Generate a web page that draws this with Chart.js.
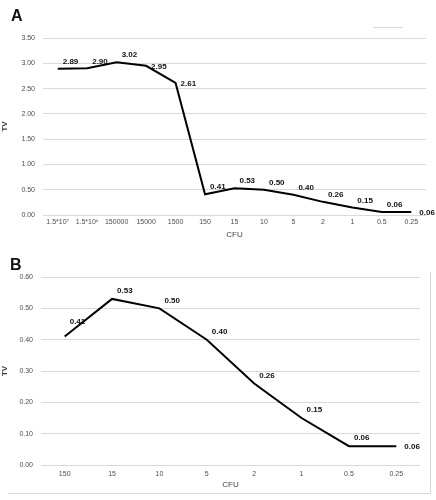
<!DOCTYPE html>
<html>
<head>
<meta charset="utf-8">
<script src="https://cdn.jsdelivr.net/npm/chart.js@4.4.1/dist/chart.umd.min.js"></script>
<style>
  body { margin: 0; background: #fff; width: 436px; height: 500px; position: relative; overflow: hidden; }
  .panel { position: absolute; left: 0; }
  .letter { position: absolute; font: bold 16px "Liberation Sans", Arial, sans-serif; color: #111; }
  #wrapA { top: 0; width: 436px; height: 240px; }
  #wrapB { top: 250px; width: 430px; height: 243px; }
  #frameB { position: absolute; left: 8px; top: 272px; width: 422px; height: 221px; border-right: 1px solid #d9d9d9; border-bottom: 1px solid #d9d9d9; }
  #legendA { position: absolute; left: 373px; top: 27px; width: 30px; height: 1px; background: #dcdcdc; }
</style>
</head>
<body>
<div id="frameB"></div>
<div class="panel" id="wrapA"><canvas id="chartA" width="436" height="240"></canvas></div>
<div class="panel" id="wrapB"><canvas id="chartB" width="430" height="243"></canvas></div>
<div id="legendA"></div>
<div class="letter" style="left:11px;top:7px">A</div>
<div class="letter" style="left:10px;top:256px">B</div>
<script>
const cfuA = ["1.5*10\u2077", "1.5*10\u2076", "150000", "15000", "1500", "150", "15", "10", "5", "2", "1", "0.5", "0.25"];
const tvA = [2.89, 2.90, 3.02, 2.95, 2.61, 0.41, 0.53, 0.50, 0.40, 0.26, 0.15, 0.06, 0.06];

const cfuB = ["150", "15", "10", "5", "2", "1", "0.5", "0.25"];
const tvB = [0.41, 0.53, 0.50, 0.40, 0.26, 0.15, 0.06, 0.06];

const gridColor = '#d9d9d9';
const tickFont = { family: '"Liberation Sans", Arial, sans-serif', size: 7 };

// writes the value next to every point, like the excel data labels
const valueLabels = {
    id: 'valueLabels',
    afterDatasetsDraw(chart, args, opts) {
        const ctx = chart.ctx;
        const meta = chart.getDatasetMeta(0);
        const values = chart.data.datasets[0].data;
        ctx.save();
        ctx.font = 'bold 8px "Liberation Sans", Arial, sans-serif';
        ctx.fillStyle = '#111';
        ctx.textBaseline = 'middle';
        ctx.textAlign = 'left';
        meta.data.forEach((pt, i) => {
            const last = i === values.length - 1;
            const side = last || (opts.rightSide || []).includes(i);
            const lift = (opts.highLift || []).includes(i) ? 15 : (opts.lift || 8);
            const x = pt.x + (last ? 8 : 5);
            const y = side ? pt.y + 1 : pt.y - lift;
            ctx.fillText(values[i].toFixed(2), x, y);
        });
        ctx.restore();
    }
};

function makeChart(canvasId, labels, values, yMax, yStep, opts) {
    return new Chart(document.getElementById(canvasId), {
        type: 'line',
        data: {
            labels: labels,
            datasets: [{
                label: 'TV',
                data: values,
                borderColor: '#000',
                borderWidth: 2,
                pointRadius: 0,
                tension: 0,
                fill: false
            }]
        },
        options: {
            responsive: false,
            animation: false,
            layout: { padding: { top: opts.top, right: opts.right, left: 0, bottom: 0 } },
            plugins: {
                legend: { display: false },
                tooltip: { enabled: false },
                valueLabels: { rightSide: opts.rightSide, lift: opts.lift, highLift: opts.highLift }
            },
            scales: {
                x: {
                    offset: true,
                    grid: { display: false, drawTicks: false },
                    border: { display: false },
                    ticks: { color: '#4d4d4d', font: tickFont, maxRotation: 0, autoSkip: false, padding: opts.xPad },
                    title: { display: true, text: 'CFU', color: '#404040', font: { family: tickFont.family, size: 8 }, padding: { top: 2, bottom: opts.titlePad } },
                    afterFit: s => { s.height = opts.xHeight; }
                },
                y: {
                    min: 0,
                    max: yMax,
                    grid: { color: gridColor, lineWidth: 1, drawTicks: false },
                    border: { display: false },
                    ticks: {
                        stepSize: yStep,
                        color: '#4d4d4d',
                        font: tickFont,
                        padding: 8,
                        callback: v => Number(v).toFixed(2)
                    },
                    title: { display: true, text: 'TV', color: '#404040', font: { family: tickFont.family, size: 8, weight: 'bold' }, padding: 0 },
                    afterFit: s => { s.width = opts.yWidth; }
                }
            }
        },
        plugins: [valueLabels]
    });
}

makeChart('chartA', cfuA, tvA, 3.5, 0.5, { top: 38, right: 10, yWidth: 43, xHeight: 25, xPad: 3, titlePad: 0, rightSide: [3, 4], lift: 7, highLift: [] });
makeChart('chartB', cfuB, tvB, 0.6, 0.1, { top: 27, right: 10, yWidth: 41, xHeight: 28, xPad: 5, titlePad: 3, rightSide: [], lift: 8, highLift: [0] });
</script>
</body>
</html>
